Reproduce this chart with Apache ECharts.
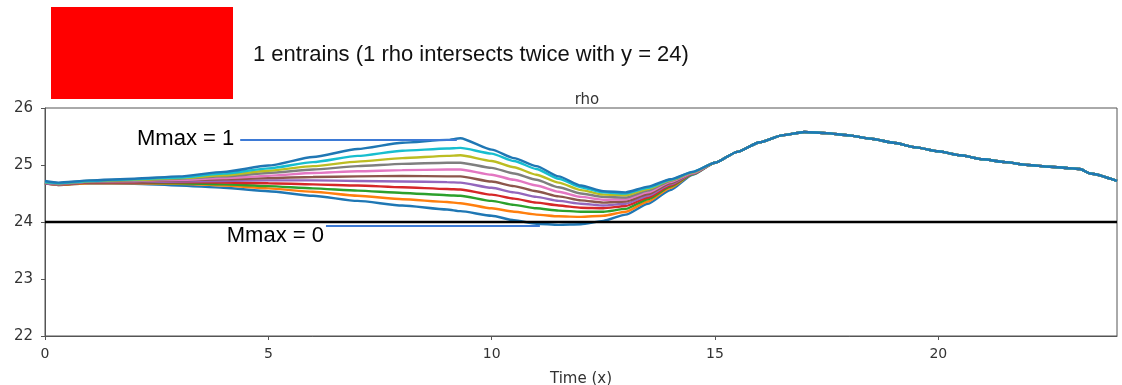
<!DOCTYPE html>
<html><head><meta charset="utf-8">
<script src="https://cdn.jsdelivr.net/npm/echarts@6/dist/echarts.min.js"></script>
<style>html,body{margin:0;padding:0;background:#fff}#c{width:1122px;height:385px}</style>
</head><body><div id="c"></div>
<script>
const headerText = '1 entrains (1 rho intersects twice with y = 24)';
const chartTitle = 'rho';
const xAxisName = 'Time (x)';
const xTicks = [0, 5, 10, 15, 20];
const yTicks = [22, 23, 24, 25, 26];
const threshold = 24;

// x positions of the diverging part (each Mmax curve has its own values)
const xHead = [0, 0.3, 1, 2, 3, 4, 5, 6, 7, 8, 9, 9.3, 10, 10.5, 11, 11.5, 12, 12.5, 13, 13.5, 14, 14.5];
const mmax00 = [24.68,24.65,24.68,24.67,24.64,24.60,24.54,24.46,24.37,24.29,24.22,24.19,24.11,24.03,23.97,23.95,23.96,24.02,24.13,24.32,24.56,24.83];
const mmax01 = [24.68,24.65,24.68,24.68,24.67,24.64,24.59,24.53,24.46,24.40,24.35,24.33,24.24,24.18,24.13,24.10,24.09,24.11,24.18,24.36,24.60,24.84];
const mmax02 = [24.68,24.66,24.69,24.69,24.68,24.66,24.63,24.59,24.55,24.51,24.47,24.46,24.37,24.30,24.24,24.20,24.18,24.18,24.23,24.40,24.62,24.84];
const mmax03 = [24.68,24.66,24.69,24.69,24.70,24.69,24.68,24.66,24.64,24.61,24.58,24.57,24.48,24.41,24.34,24.29,24.25,24.24,24.28,24.43,24.64,24.85];
const mmax04 = [24.68,24.66,24.70,24.70,24.71,24.72,24.73,24.73,24.72,24.71,24.70,24.69,24.60,24.52,24.44,24.37,24.32,24.29,24.32,24.46,24.66,24.85];
const mmax05 = [24.69,24.67,24.70,24.71,24.73,24.75,24.77,24.79,24.80,24.81,24.80,24.80,24.71,24.63,24.54,24.45,24.38,24.34,24.36,24.49,24.68,24.86];
const mmax06 = [24.69,24.67,24.71,24.72,24.74,24.77,24.81,24.86,24.89,24.91,24.92,24.92,24.83,24.74,24.64,24.53,24.44,24.39,24.40,24.52,24.70,24.86];
const mmax07 = [24.69,24.67,24.71,24.73,24.76,24.80,24.86,24.92,24.98,25.02,25.04,25.04,24.95,24.85,24.74,24.61,24.50,24.44,24.43,24.55,24.72,24.87];
const mmax08 = [24.70,24.68,24.72,24.74,24.77,24.82,24.90,24.98,25.06,25.12,25.16,25.17,25.07,24.96,24.83,24.69,24.56,24.48,24.47,24.58,24.73,24.87];
const mmax09 = [24.70,24.68,24.72,24.75,24.78,24.85,24.94,25.05,25.16,25.25,25.29,25.30,25.20,25.07,24.93,24.76,24.61,24.52,24.50,24.60,24.74,24.88];
const mmax10 = [24.72,24.69,24.73,24.76,24.80,24.88,24.99,25.14,25.28,25.39,25.44,25.47,25.27,25.12,24.98,24.80,24.64,24.54,24.52,24.62,24.75,24.88];

// shared part where all curves coincide
const xTail = [15, 15.5, 16, 16.5, 17, 17.5, 18, 18.5, 19, 19.5, 20, 20.5, 21, 21.5, 22, 22.5, 23, 23.17, 23.4, 24];
const tailValues = [25.04,25.23,25.40,25.52,25.58,25.56,25.52,25.46,25.39,25.31,25.24,25.17,25.10,25.05,25.00,24.97,24.94,24.93,24.85,24.72];

const annotTopLabel = 'Mmax = 1';
const annotTopX = [4.37, 9.22];
const annotTopY = 25.44;
const annotBottomLabel = 'Mmax = 0';
const annotBottomX = [6.29, 11.08];
const annotBottomY = 23.93;

const curves = [mmax00, mmax01, mmax02, mmax03, mmax04, mmax05, mmax06, mmax07, mmax08, mmax09, mmax10];
const names = ['Mmax 0','Mmax 0.1','Mmax 0.2','Mmax 0.3','Mmax 0.4','Mmax 0.5','Mmax 0.6','Mmax 0.7','Mmax 0.8','Mmax 0.9','Mmax 1'];
const palette = ['#1f77b4','#ff7f0e','#2ca02c','#d62728','#9467bd','#8c564b','#e377c2','#7f7f7f','#bcbd22','#17becf','#1f77b4'];

const labelFont = 'DejaVu Sans';
const series = curves.map((vals, i) => ({
  type: 'line', name: names[i], showSymbol: false, symbol: 'none',
  smooth: 0.2, smoothMonotone: 'x',
  lineStyle: { color: palette[i], width: 2.4 },
  data: xHead.map((x, j) => [x, vals[j]]).concat(xTail.map((x, j) => [x, tailValues[j]])),
  z: 2
}));

series.push({
  type: 'line', name: 'threshold', symbol: 'none',
  lineStyle: { color: '#000', width: 2.5 },
  data: [[0, threshold], [24, threshold]], z: 4
});

function annot(label, xs, y, offset, dist) {
  return {
    type: 'line', symbol: 'circle', symbolSize: 0, showSymbol: true, z: 5,
    lineStyle: { color: '#3d7ad6', width: 2 },
    data: [
      { value: [xs[0], y], label: { show: true, position: 'left', distance: dist, offset: offset,
        formatter: label, fontSize: 22, color: '#000', fontFamily: 'Liberation Sans' } },
      [xs[1], y]
    ]
  };
}
series.push(annot(annotTopLabel, annotTopX, annotTopY, [0, -1], 6));
series.push(annot(annotBottomLabel, annotBottomX, annotBottomY, [0, 10], 2));

const chart = echarts.init(document.getElementById('c'), null, { renderer: 'canvas' });
chart.setOption({
  animation: false,
  backgroundColor: '#fff',
  title: {
    text: chartTitle, left: 582, top: 88, textAlign: 'center',
    textStyle: { fontFamily: labelFont, fontSize: 15, fontWeight: 'normal', color: '#333' }
  },
  grid: { left: 45, right: 5, top: 108, bottom: 49, show: true, borderColor: '#555', borderWidth: 1,
          containLabel: false, outerBoundsMode: 'none' },
  xAxis: {
    type: 'value', min: 0, max: 24, interval: 5,
    name: xAxisName, nameLocation: 'middle', nameGap: 36,
    nameTextStyle: { fontFamily: labelFont, fontSize: 15, color: '#333' },
    axisLine: { show: true, lineStyle: { color: '#555', width: 1 } },
    axisTick: { show: true, length: 4, customValues: xTicks, lineStyle: { color: '#555' } },
    axisLabel: { customValues: xTicks, margin: 11, fontFamily: labelFont, fontSize: 14, color: '#333' },
    splitLine: { show: false }
  },
  yAxis: {
    type: 'value', min: 22, max: 26, interval: 1,
    axisLine: { show: true, lineStyle: { color: '#555', width: 1 } },
    axisTick: { show: true, length: 4, customValues: yTicks, lineStyle: { color: '#555' } },
    axisLabel: { customValues: yTicks, margin: 12, fontFamily: labelFont, fontSize: 15, color: '#333' },
    splitLine: { show: false }
  },
  graphic: [
    { type: 'rect', shape: { x: 51, y: 7, width: 182, height: 92 }, style: { fill: '#ff0000' } },
    { type: 'text', x: 253, y: 55, style: { text: headerText, font: '22px "Liberation Sans"', fill: '#111', textVerticalAlign: 'middle' } }
  ],
  series: series
});
</script>
</body></html>
